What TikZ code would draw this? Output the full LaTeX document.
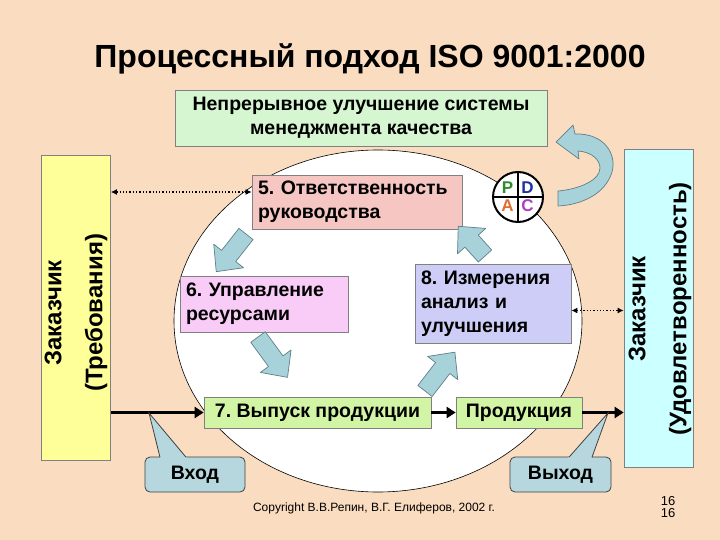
\documentclass[tikz,border=0pt]{standalone}
\usepackage{fontspec}
\setmainfont{Liberation Sans}
\usetikzlibrary{arrows.meta,calc}
\definecolor{bg}{HTML}{FADCC0}
\definecolor{impr}{HTML}{D6F6D2}
\definecolor{pinkA}{HTML}{F5C6C2}
\definecolor{pinkB}{HTML}{F9CCF7}
\definecolor{lav}{HTML}{CDCDF7}
\definecolor{lime}{HTML}{D2F5A5}
\definecolor{yel}{HTML}{FFFF99}
\definecolor{cyn}{HTML}{CCFFFF}
\definecolor{calfill}{HTML}{B7D7DE}
\definecolor{arrfill}{HTML}{A8D2DA}
\definecolor{arrline}{HTML}{5F7F88}
\definecolor{pG}{HTML}{2E8B2E}
\definecolor{pD}{HTML}{2030A0}
\definecolor{pA}{HTML}{E07030}
\definecolor{pC}{HTML}{B040C0}
\frenchspacing
\begin{document}
\begin{tikzpicture}[x=1pt,y=-1pt,
  panel/.style={draw=black!50, line width=0.7pt, inner sep=0pt},
  txt/.style={font=\bfseries\fontsize{19.5}{24}\selectfont},
  vtxt/.style={font=\bfseries\fontsize{24}{41}\selectfont, rotate=90, align=center},
  flow/.style={line width=3.5pt, -{Triangle[length=9pt,width=11pt]}},
  link/.style={line width=1.3pt, dotted, {Latex[length=6pt,width=6pt]}-{Latex[length=6pt,width=6pt]}},
  callbox/.style={draw=black!75, line width=0.8pt, fill=calfill, rounded corners=5pt, inner sep=0pt, font=\bfseries\fontsize{19.5}{24}\selectfont},
  calline/.style={draw=black!75, line width=0.8pt},
  pdcal/.style={font=\bfseries\fontsize{17}{17}\selectfont},
  pics/barrow/.style={code={\draw[fill=arrfill, draw=arrline, line width=0.7pt, line join=round]
     (0,-9) -- (#1-20,-9) -- (#1-20,-19) -- (#1,0) -- (#1-20,19) -- (#1-20,9) -- (0,9) -- cycle;}}
]
\useasboundingbox (0,0) rectangle (720,540);
\fill[bg] (0,0) rectangle (720,540);

% title
\node[font=\bfseries\fontsize{32}{36}\selectfont] (title) at (370,59) {Процессный подход ISO 9001:2000};

% big ellipse
\draw[fill=white, line width=0.6pt] (378,321) ellipse [x radius=204, y radius=171];

% improvement box
\node[panel, txt, fill=impr, minimum width=372, minimum height=56, align=center] (improve) at (361,118)
  {Непрерывное улучшение системы\\менеджмента качества};

% side boxes
\node[panel, fill=yel, minimum width=69, minimum height=305] (req) at (76,307.5) {};
\node[vtxt] (reqt) at (76,313) {Заказчик\\(Требования)};
\node[panel, fill=cyn, minimum width=69, minimum height=318] (sat) at (658.5,308) {};
\node[vtxt] (satt) at (660,309) {Заказчик\\(Удовлетворенность)};

% process boxes
\node[panel, txt, fill=pinkA, minimum height=54, text width=198, inner xsep=6pt, align=left] (b5) at (357,202)
  {5. Ответственность\\руководства};
\node[panel, txt, fill=pinkB, minimum height=56, text width=156, inner xsep=6pt, align=left] (b6) at (264,304)
  {6. Управление\\ресурсами};
\node[panel, txt, fill=lav, minimum height=79, text width=144, inner xsep=6pt, align=left] (b8) at (493,303.5)
  {8. Измерения\\анализ и\\улучшения};
\node[panel, txt, fill=lime, minimum width=227, minimum height=31] (b7) at (317.5,412.5) {7. Выпуск продукции};
\node[panel, txt, fill=lime, minimum width=126, minimum height=31] (prod) at (519,412.5) {Продукция};

% PDCA
\node[circle, draw, line width=2pt, fill=white, minimum size=50pt, inner sep=0pt] (pdca) at (518,197) {};
\draw[line width=2pt] (pdca.north) -- (pdca.south);
\draw[line width=2pt] (pdca.west) -- (pdca.east);
\node[pdcal, text=pG] (lp) at (507.5,188) {P};
\node[pdcal, text=pD] (ld) at (527.5,188) {D};
\node[pdcal, text=pA] (la) at (507.5,206) {A};
\node[pdcal, text=pC] (lc) at (527.5,206) {C};

% cycle block arrows
\pic[rotate=231.7] (a1) at (246,234) {barrow=48};
\pic[rotate=-53.8] (a2) at (258,337) {barrow=50};
\pic[rotate=52.4] (a3) at (425,391) {barrow=49};
\pic[rotate=132] (a4) at (485,256) {barrow=40};

% curved arrow
\draw[fill=arrfill, draw=arrline, line width=0.7pt, line join=round]
  (558,191) .. controls (580,189) and (600,180) .. (600,168)
  .. controls (600,160) and (592,152) .. (578,151)
  -- (579,159) -- (556,142) -- (573,125) -- (575,134)
  .. controls (605,133) and (617,155) .. (612,172)
  .. controls (605,195) and (580,205) .. (558,206) -- cycle;

% dotted links
\draw[link] ([yshift=10pt]b5.west -| req.east) -- ([yshift=10pt]b5.west);
\draw[link] ([yshift=-7pt]b8.east) -- ([yshift=-7pt]b8.east -| sat.west);

% main flow
\draw[flow] (b7.west -| req.east) -- (b7.west);
\draw[flow] (b7.east) -- (prod.west);
\draw[flow] (prod.east) -- (prod.east -| sat.west);

% callouts
\node[callbox, minimum width=100, minimum height=35] (vin) at (195,474.5) {Вход};
\coordinate (vinTip) at (149,413);
\fill[calfill] (vinTip) -- (161,461) -- (189.4,461) -- cycle;
\draw[calline] (160,457.2) -- (vinTip) -- (186,457.2);

\node[callbox, minimum width=101, minimum height=35] (vout) at (560.5,474.5) {Выход};
\coordinate (voutTip) at (608,413);
\fill[calfill] (voutTip) -- (565.5,461) -- (590.5,461) -- cycle;
\draw[calline] (569,457.2) -- (voutTip) -- (592,457.2);

% footer
\node[font=\fontsize{12}{14}\selectfont] (copy) at (374,508) {Copyright В.В.Репин, В.Г. Елиферов, 2002 г.};
\node[font=\fontsize{13}{12.5}\selectfont, align=center] (pg) at (668,507) {16\\16};
\end{tikzpicture}
\end{document}
